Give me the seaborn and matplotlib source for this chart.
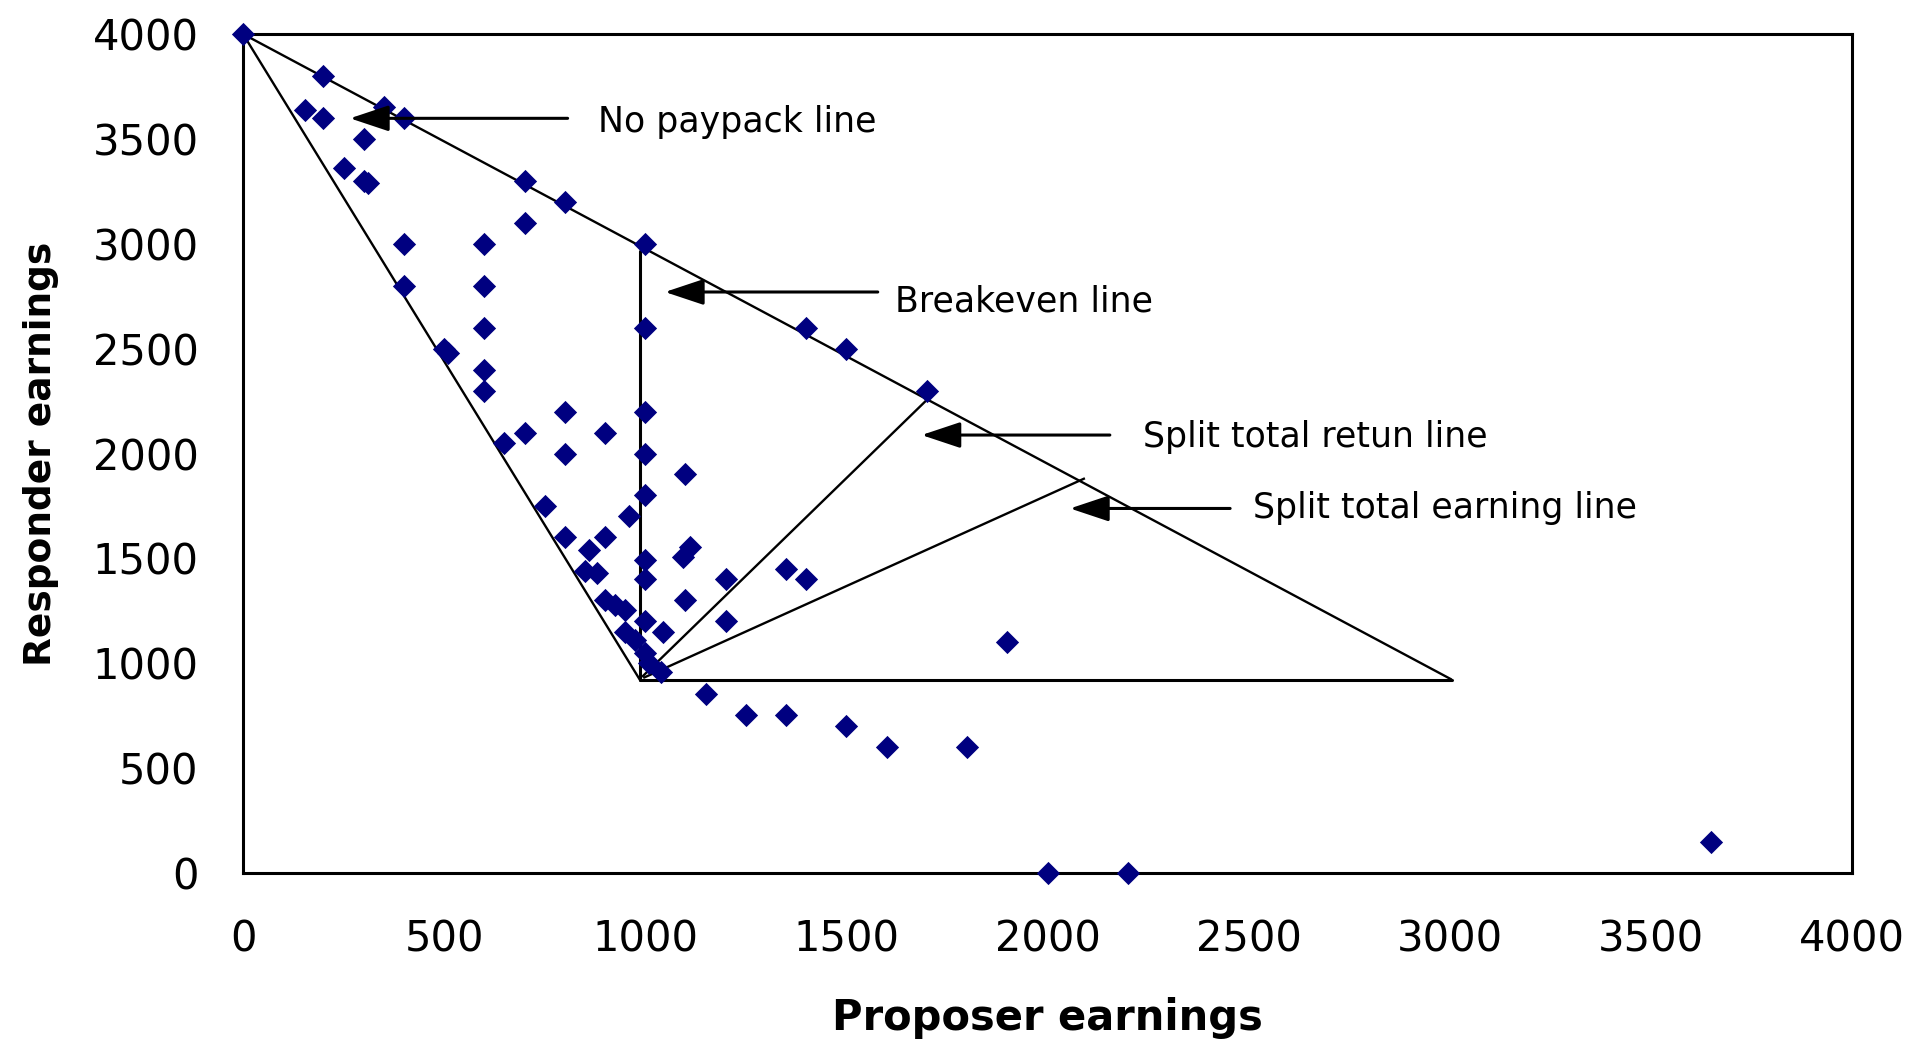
import matplotlib
matplotlib.use("Agg")
import matplotlib.pyplot as plt
import seaborn as sns
import pandas as pd

# ---- data ----
proposer = [0, 200, 155, 200, 350, 400, 300, 250, 300, 310, 700, 800, 700,
            400, 600, 1000, 400, 600, 600, 1000, 1400, 1500, 500, 510, 600, 600, 1700,
            800, 1000, 650, 700, 900, 800, 1000, 1100, 1000, 960, 750, 800, 900, 860,
            1110, 1095, 1000, 1000, 850, 880, 1200, 1350, 1400,
            900, 925, 950, 1100, 1000, 1200, 1045, 950, 975, 1000, 1010, 1040, 1900,
            1150, 1250, 1350, 1500, 1600, 1800, 2000, 2200, 3650]
responder = [4000, 3800, 3640, 3600, 3650, 3600, 3500, 3360, 3300, 3290, 3300, 3200, 3100,
             3000, 3000, 3000, 2800, 2800, 2600, 2600, 2600, 2500, 2500, 2480, 2400, 2300, 2300,
             2200, 2200, 2050, 2100, 2100, 2000, 2000, 1900, 1800, 1700, 1750, 1600, 1600, 1540,
             1555, 1505, 1490, 1400, 1440, 1430, 1400, 1450, 1400,
             1300, 1280, 1255, 1300, 1200, 1200, 1150, 1150, 1110, 1050, 1000, 960, 1100,
             855, 755, 755, 700, 600, 600, 0, 0, 150]

x_ticks = [0, 500, 1000, 1500, 2000, 2500, 3000, 3500, 4000]
y_ticks = [0, 500, 1000, 1500, 2000, 2500, 3000, 3500, 4000]

# reference lines (drawn shapes)
no_payback_x = [0, 3005]
no_payback_y = [4000, 922]
left_edge_x = [0, 987]
left_edge_y = [4000, 920]
bottom_edge_x = [987, 3005]
bottom_edge_y = [920, 920]
breakeven_x = [987, 987]
breakeven_y = [920, 2965]
split_return_x = [992, 1704]
split_return_y = [935, 2263]
split_earning_x = [995, 2093]
split_earning_y = [930, 1882]

labels = ["No paypack line", "Breakeven line", "Split total retun line", "Split total earning line"]
label_x = [883, 1621, 2237, 2511]
label_y = [3534, 2676, 2033, 1692]
arrow_tail_x = [807, 1578, 2155, 2454]
arrow_tip_x = [266, 1049, 1687, 2056]
arrow_y = [3598, 2770, 2088, 1738]

sns.set_style("white")
plt.rcParams['font.family'] = ['DejaVu Sans']

fig = plt.figure(figsize=(19.23, 10.45), dpi=100)
ax = fig.add_axes([0.12637, 0.16459, 0.83671, 0.80287])

df = pd.DataFrame({"Proposer earnings": proposer, "Responder earnings": responder})

line_kw = dict(color="black", lw=1.7, solid_capstyle="butt", zorder=2)
ax.plot(no_payback_x, no_payback_y, **line_kw)
ax.plot(left_edge_x, left_edge_y, **line_kw)
ax.plot(bottom_edge_x, bottom_edge_y, color="black", lw=2.2, zorder=2)
ax.plot(breakeven_x, breakeven_y, color="black", lw=2.2, zorder=2)
ax.plot(split_return_x, split_return_y, **line_kw)
ax.plot(split_earning_x, split_earning_y, **line_kw)

sns.scatterplot(data=df, x="Proposer earnings", y="Responder earnings", ax=ax,
                marker="D", color="#000080", s=140, linewidth=0, zorder=3,
                clip_on=False)

for t, tx, ty, a0, a1, ay in zip(labels, label_x, label_y, arrow_tail_x, arrow_tip_x, arrow_y):
    ax.annotate("", xy=(a1, ay), xytext=(a0, ay),
                arrowprops=dict(arrowstyle="-|>,head_length=1.2,head_width=0.4",
                                mutation_scale=20, lw=2.2, color="black",
                                shrinkA=0, shrinkB=0), zorder=4)
    ax.text(tx, ty, t, fontsize=25, ha="left", va="baseline", color="black")

ax.set_xlim(0, 4000)
ax.set_ylim(0, 4000)
ax.set_xticks(x_ticks)
ax.set_yticks(y_ticks)
ax.set_xticklabels([str(v) for v in x_ticks])
ax.set_yticklabels([str(v) for v in y_ticks])
ax.tick_params(axis="both", direction="out", length=13, width=2.2, labelsize=30,
               color="black", labelcolor="black")
ax.tick_params(axis="x", pad=20)
ax.tick_params(axis="y", pad=19)
for sp in ax.spines.values():
    sp.set_visible(True)
    sp.set_color("black")
    sp.set_linewidth(2.2)

ax.set_xlabel("Proposer earnings", fontsize=30, fontweight="bold", labelpad=26, color="black")
ax.set_ylabel("Responder earnings", fontsize=27, fontweight="bold", labelpad=24, color="black")
ax.grid(False)

fig.savefig("out.png", dpi=100, facecolor="white")
